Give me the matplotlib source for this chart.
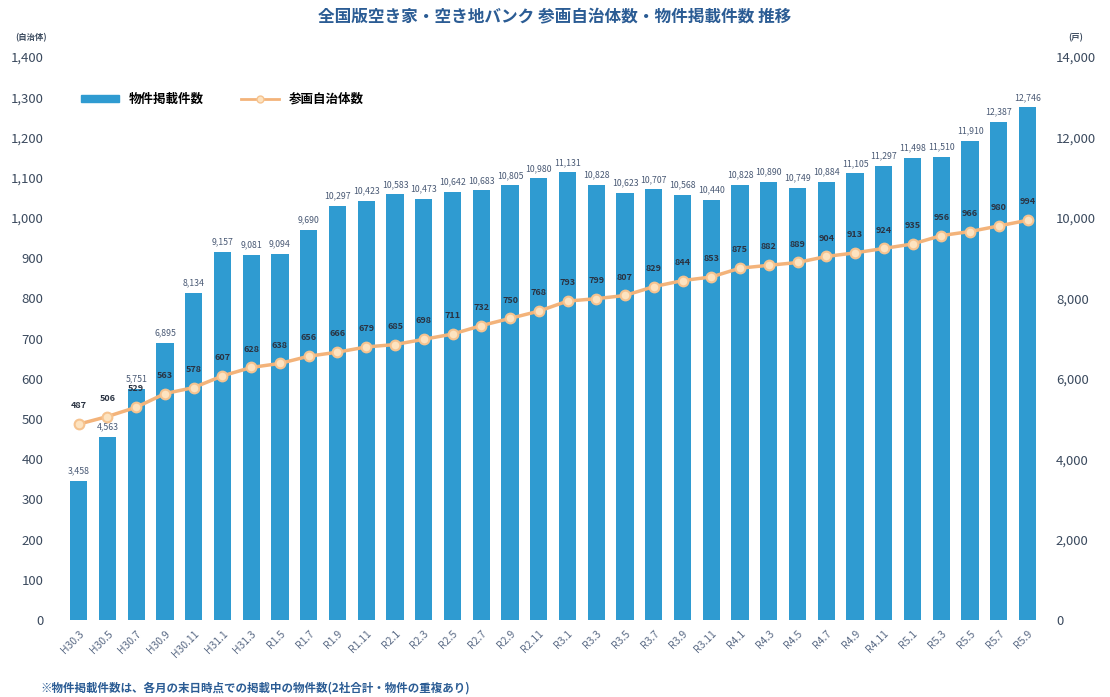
import matplotlib
matplotlib.use("Agg")
import matplotlib.pyplot as plt
from matplotlib.patches import Patch
from matplotlib.lines import Line2D

plt.rcParams['font.family'] = ['Noto Sans CJK JP', 'DejaVu Sans']

categories = ["H30.3", "H30.5", "H30.7", "H30.9", "H30.11", "H31.1", "H31.3",
              "R1.5", "R1.7", "R1.9", "R1.11", "R2.1", "R2.3", "R2.5", "R2.7",
              "R2.9", "R2.11", "R3.1", "R3.3", "R3.5", "R3.7", "R3.9", "R3.11",
              "R4.1", "R4.3", "R4.5", "R4.7", "R4.9", "R4.11", "R5.1", "R5.3",
              "R5.5", "R5.7", "R5.9"]
listings = [3458, 4563, 5751, 6895, 8134, 9157, 9081, 9094, 9690, 10297, 10423,
            10583, 10473, 10642, 10683, 10805, 10980, 11131, 10828, 10623, 10707,
            10568, 10440, 10828, 10890, 10749, 10884, 11105, 11297, 11498, 11510,
            11910, 12387, 12746]
municipalities = [487, 506, 529, 563, 578, 607, 628, 638, 656, 666, 679, 685, 698,
                  711, 732, 750, 768, 793, 799, 807, 829, 844, 853, 875, 882, 889,
                  904, 913, 924, 935, 956, 966, 980, 994]
left_ticks = list(range(0, 1401, 100))
right_ticks = list(range(0, 14001, 2000))

title = "全国版空き家・空き地バンク 参画自治体数・物件掲載件数 推移"
bar_name = "物件掲載件数"
line_name = "参画自治体数"
footnote = "※物件掲載件数は、各月の末日時点での掲載中の物件数(2社合計・物件の重複あり)"

BAR = "#2f9bd1"
LINE = "#f3b37a"
TXT = "#3b4a5e"

fig = plt.figure(figsize=(11.1, 6.97), dpi=100)
ax = fig.add_axes([60/1110, 77/697, 982/1110, 563/697])
ax2 = ax.twinx()
x = list(range(len(categories)))

ax2.bar(x, listings, width=0.6, color=BAR, zorder=1)
ax2.set_ylim(0, 14000)
ax2.set_yticks(right_ticks)
ax2.set_yticklabels([f"{v:,}" for v in right_ticks])
for xi, v in zip(x, listings):
    ax2.annotate(f"{v:,}", (xi, v), xytext=(0, 4), textcoords="offset points",
                 ha="center", va="bottom", fontsize=6.3, color="#4a5a75")

ax.set_zorder(ax2.get_zorder() + 1)
ax.patch.set_visible(False)
ax.plot(x, municipalities, color=LINE, lw=2.5, marker="o", ms=7,
        mfc="#fde3c0", mec="#f6c38f", mew=1.5, zorder=3)
for xi, v in zip(x, municipalities):
    ax.annotate(f"{v}", (xi, v), xytext=(0, 10), textcoords="offset points",
                ha="center", va="bottom", fontsize=6.5, color="#2a3342",
                fontweight="bold")
ax.set_ylim(0, 1400)
ax.set_yticks(left_ticks)
ax.set_yticklabels([f"{v:,}" for v in left_ticks])
ax.set_xlim(-0.65, 33.5)
ax.set_xticks(x)
ax.set_xticklabels(categories, rotation=45, ha="right", rotation_mode="anchor",
                   fontsize=7.5, color="#5a6a85")

for a in (ax, ax2):
    for s in a.spines.values():
        s.set_visible(False)
    a.tick_params(length=0, labelsize=9.5, colors=TXT)
ax.tick_params(axis="x", labelsize=7.5, colors="#5a6a85", pad=6)
ax.tick_params(axis="y", pad=12)
ax2.tick_params(axis="y", pad=10)

handles = [Patch(color=BAR),
           Line2D([0], [0], color=LINE, lw=2, marker="o", ms=5, mfc="#fde3c0", mec="#f6c38f")]
ax.legend(handles, [bar_name, line_name], loc="center left",
          bbox_to_anchor=(0.01, 0.925), ncol=2, frameon=False,
          handlelength=3.0, handleheight=0.5, columnspacing=3,
          prop={"weight": "bold", "size": 9})

fig.text(0.5, 1 - 17/697, title, ha="center", va="center", fontsize=12,
         fontweight="bold", color="#2b5c94")
fig.text(15/1110, 1 - 38/697, "(自治体)", ha="left", va="center", fontsize=6,
         color=TXT, fontweight="bold")
fig.text(1068/1110, 1 - 38/697, "(戸)", ha="left", va="center", fontsize=6,
         color=TXT, fontweight="bold")
fig.text(40/1110, 1 - 688/697, footnote, ha="left", va="center", fontsize=8.3,
         color="#2b5c94", fontweight="bold")

fig.savefig("out.png", dpi=100)
